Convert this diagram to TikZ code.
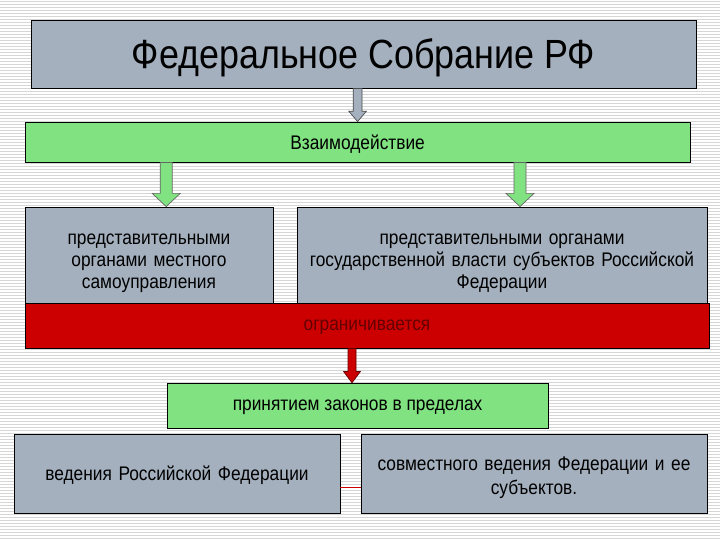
\documentclass[tikz,border=0pt]{standalone}
\usepackage{fontspec}
\setmainfont{Liberation Sans}[FakeStretch=0.88]
\usetikzlibrary{calc}

\definecolor{boxgray}{RGB}{164,176,190}
\definecolor{lightgreen}{RGB}{128,226,128}
\definecolor{barred}{RGB}{204,0,0}
\definecolor{darkred}{RGB}{100,0,0}

% vertical block arrow: style, start, end, half shaft, half head, head length
\newcommand{\fatarrow}[6]{%
  \draw[#1] ($(#2)+(-#4,0)$) -- ($(#3)+(-#4,#6)$) -- ($(#3)+(-#5,#6)$) -- (#3)
    -- ($(#3)+(#5,#6)$) -- ($(#3)+(#4,#6)$) -- ($(#2)+(#4,0)$) -- cycle;}

\begin{document}
\begin{tikzpicture}[
box/.style={draw=black,line width=0.6pt,fill=boxgray,align=center,inner sep=2pt,
  font=\fontsize{14}{15.8}\selectfont},
oneline/.style={text depth=0pt},
greenbox/.style={box,oneline,fill=lightgreen},
redbar/.style={box,oneline,fill=barred,text=darkred},
grayarrow/.style={draw=black!70,line width=0.5pt,fill=boxgray},
greenarrow/.style={draw=black!60,line width=0.5pt,fill=lightgreen},
redarrow/.style={draw=darkred,line width=0.5pt,fill=barred},
stripe/.style={draw=black!16,line width=0.6pt}]
\useasboundingbox (0,0) rectangle (18,-13.5);
\fill[white] (0,0) rectangle (18,-13.5);
\foreach \i in {0,...,179}
  \draw[stripe] (0,-0.075*\i-0.04) -- (18,-0.075*\i-0.04);

\node[box,oneline,minimum width=16.63cm,minimum height=1.7cm,
  font=\fontsize{29}{32}\selectfont] (fed) at (9.09,-1.35) {Федеральное Собрание РФ};
\node[greenbox,minimum width=16.63cm,minimum height=1cm] (vz) at (8.94,-3.55)
  {Взаимодействие};
\node[box,minimum width=6.2cm,minimum height=2.4cm,text width=6cm,text height=19pt] (mest) at (3.725,-6.375)
  {представительными\\органами местного\\самоуправления};
\node[box,minimum width=10.25cm,minimum height=2.4cm,text width=10.1cm,text height=19pt] (subj) at (12.55,-6.375)
  {представительными органами\\государственной власти субъектов Российской\\Федерации};
\node[redbar,minimum width=17.1cm,minimum height=1.125cm] (ogr) at (9.175,-8.14)
  {ограничивается};
\node[greenbox,minimum width=9.525cm,minimum height=1.125cm] (prin) at (8.94,-10.14)
  {принятием законов в пределах};
\node[box,oneline,minimum width=8.15cm,minimum height=1.975cm,text width=8cm] (ved) at (4.425,-11.84)
  {ведения Российской Федерации};
\node[box,minimum width=8.65cm,minimum height=1.975cm,text width=8.2cm,text height=16pt,
  font=\fontsize{14}{17}\selectfont] (sovm) at (13.35,-11.84)
  {совместного ведения Федерации и ее\\субъектов.};

\coordinate (a1) at (fed.south -| vz.north);
\coordinate (a2) at ($(vz.south -| mest.north)+(0.43,0)$);
\coordinate (b2) at (a2 |- mest.north);
\coordinate (a3) at ($(vz.south -| subj.north)+(0.45,0)$);
\coordinate (b3) at (a3 |- subj.north);
\coordinate (a4) at ($(ogr.south -| prin.north)+(-0.14,0)$);
\coordinate (b4) at (a4 |- prin.north);

\fatarrow{grayarrow}{a1}{vz.north}{0.11}{0.22}{0.26}
\fatarrow{greenarrow}{a2}{b2}{0.15}{0.35}{0.33}
\fatarrow{greenarrow}{a3}{b3}{0.15}{0.35}{0.33}
\fatarrow{redarrow}{a4}{b4}{0.1}{0.21}{0.28}
\draw[barred,line width=0.6pt] ($(ved.east)+(0,-0.34)$) -- ($(sovm.west)+(0,-0.34)$);
\end{tikzpicture}
\end{document}
